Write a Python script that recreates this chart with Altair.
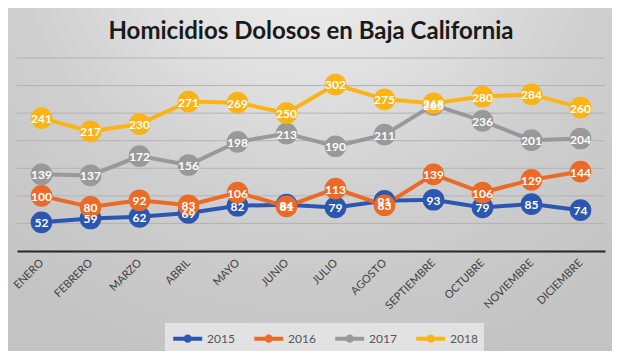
import altair as alt
import pandas as pd

months = ["ENERO", "FEBRERO", "MARZO", "ABRIL", "MAYO", "JUNIO", "JULIO",
          "AGOSTO", "SEPTIEMBRE", "OCTUBRE", "NOVIEMBRE", "DICIEMBRE"]
years = ["2015", "2016", "2017", "2018"]
v2015 = [52, 59, 62, 69, 82, 84, 79, 91, 93, 79, 85, 74]
v2016 = [100, 80, 92, 83, 106, 81, 113, 83, 139, 106, 129, 144]
v2017 = [139, 137, 172, 156, 198, 213, 190, 211, 265, 236, 201, 204]
v2018 = [241, 217, 230, 271, 269, 250, 302, 275, 268, 280, 284, 260]
colors = ["#2C57B1", "#EC6A27", "#999999", "#FBB316"]
grid_values = [50, 100, 150, 200, 250, 300, 350]

rows = []
for y, vals in zip(years, [v2015, v2016, v2017, v2018]):
    for m, v in zip(months, vals):
        rows.append({"Mes": m, "Año": y, "Valor": v})
df = pd.DataFrame(rows)
grid_df = pd.DataFrame({"Valor": grid_values})

FONT = "Lato"
color_scale = alt.Scale(domain=years, range=colors)
y_scale = alt.Scale(domain=[0, 350], nice=False)

x_enc = alt.X("Mes:N", sort=months,
              axis=alt.Axis(title=None, labelAngle=-45, labelAlign="right",
                            labelBaseline="middle", labelPadding=10,
                            ticks=False, domainColor="#262626", domainWidth=2,
                            labelFont=FONT, labelFontSize=11,
                            labelColor="#404040", grid=False, zindex=1))
y_enc = alt.Y("Valor:Q", scale=y_scale, axis=None)

bg = alt.Chart(alt.Data(values=[{}])).mark_rect(
    fill=alt.Gradient(
        gradient="radial", x1=0.5, y1=0.05, r1=0, x2=0.5, y2=0.05, r2=1,
        stops=[alt.GradientStop(offset=0, color="#f6f6f6"),
               alt.GradientStop(offset=0.25, color="#e3e3e3"),
               alt.GradientStop(offset=0.5, color="#cfcfcf"),
               alt.GradientStop(offset=0.8, color="#c3c3c3")])
).encode(x=alt.value(-9), x2=alt.value(595), y=alt.value(-50), y2=alt.value(293))

grid = alt.Chart(grid_df).mark_rule(color="#b3b3b3", strokeWidth=1).encode(
    y=alt.Y("Valor:Q", scale=y_scale, axis=None),
    x=alt.value(0), x2=alt.value(588),
)

base = alt.Chart(df)

lines = base.mark_line(strokeWidth=4).encode(
    x=x_enc, y=y_enc,
    color=alt.Color("Año:N", scale=color_scale,
                    legend=alt.Legend(
                        title=None, orient="none", direction="horizontal",
                        legendX=148, legendY=265,
                        symbolType="M-1,0L3,0M0.7,0A0.3,0.3,0,1,1,1.3,0A0.3,0.3,0,1,1,0.7,0",
                        symbolSize=210, symbolStrokeWidth=4,
                        labelFont=FONT, labelFontSize=12, labelColor="#555555",
                        labelOffset=17, columnPadding=11, padding=6,
                        fillColor="#e2e2e2", zindex=1)),
)

points = base.mark_circle(size=470, opacity=1).encode(
    x=x_enc, y=y_enc,
    color=alt.Color("Año:N", scale=color_scale, legend=None),
)

labels = base.mark_text(font=FONT, fontSize=12, fontWeight="bold",
                        color="white", align="center", baseline="middle", dy=1).encode(
    x=x_enc, y=y_enc, text="Valor:Q",
)

chart = alt.layer(bg, grid, lines, points, labels).properties(
    width=588, height=193,
    autosize=alt.AutoSizeParams(type="none"),
    padding={"left": 9, "top": 50, "right": 7, "bottom": 100},
    background="#cccccc",
    title=alt.TitleParams("Homicidios Dolosos en Baja California", font=FONT,
                          fontSize=24, fontWeight="bold", color="#1a1a1a",
                          anchor="middle", frame="group", offset=-36, zindex=1),
).configure_view(strokeWidth=0)

chart.save("out.html", embed_options={"renderer": "svg", "actions": False})
